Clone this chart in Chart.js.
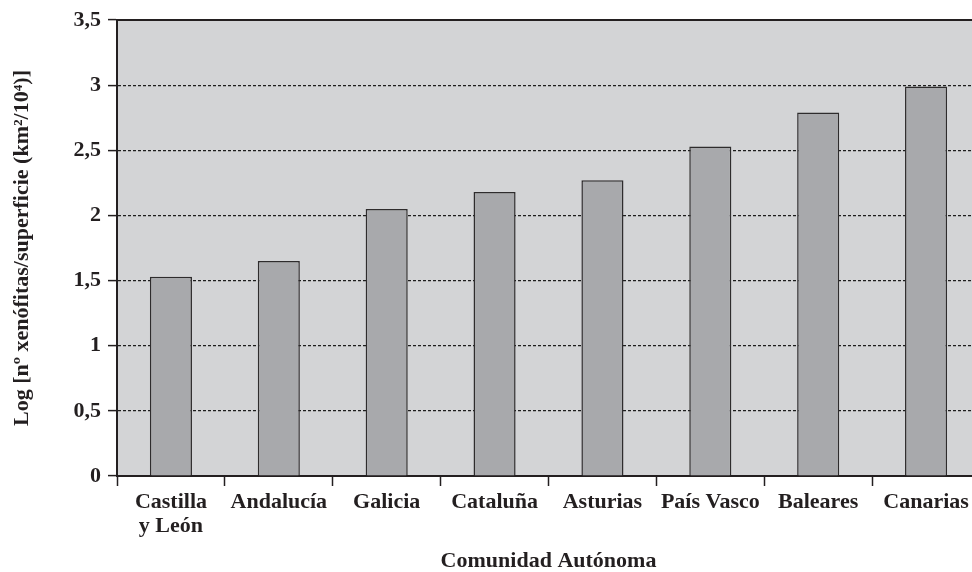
<!DOCTYPE html>
<html>
<head>
<meta charset="utf-8">
<script src="https://cdn.jsdelivr.net/npm/chart.js@4/dist/chart.umd.min.js"></script>
<style>
  html, body { margin: 0; padding: 0; background: #ffffff; overflow: hidden; }
  #wrap { width: 990px; height: 572px; }
</style>
</head>
<body>
<div id="wrap"><canvas id="c" width="990" height="572"></canvas></div>
<script>
// Comunidades autónomas (multi-line labels where needed)
const categories = [
  ['Castilla', 'y León'], 'Andalucía', 'Galicia', 'Cataluña',
  'Asturias', 'País Vasco', 'Baleares', 'Canarias'
];
// Log [nº xenófitas / superficie (km²/10⁴)]
const values = [1.53, 1.65, 2.05, 2.18, 2.27, 2.53, 2.79, 2.99];
const yTickLabels = ['0', '0,5', '1', '1,5', '2', '2,5', '3', '3,5'];

const ink = '#231f20';
const serif = '"Liberation Serif", "Times New Roman", serif';
const labelFont = { family: serif, size: 22, weight: 'bold', lineHeight: 1.1 };

// Plot background and solid top frame line
const frame = {
  id: 'frame',
  beforeDraw(chart) {
    const { ctx, chartArea: a } = chart;
    ctx.save();
    ctx.fillStyle = '#d3d4d6';
    ctx.fillRect(a.left, a.top, a.right - a.left, a.bottom - a.top);
    ctx.restore();
  },
  afterDraw(chart) {
    const { ctx, chartArea: a } = chart;
    ctx.save();
    ctx.strokeStyle = ink;
    ctx.lineWidth = 2;
    ctx.beginPath();
    ctx.moveTo(a.left - 1, a.top);
    ctx.lineTo(a.right, a.top);
    ctx.stroke();
    ctx.restore();
  }
};

new Chart(document.getElementById('c'), {
  type: 'bar',
  data: {
    labels: categories,
    datasets: [{
      data: values,
      backgroundColor: '#a8a9ac',
      borderColor: '#2e2c2d',
      borderWidth: 1.5,
      barPercentage: 0.39,
      categoryPercentage: 1.0
    }]
  },
  options: {
    responsive: false,
    animation: false,
    devicePixelRatio: 1,
    layout: { padding: { top: 20, right: 10, bottom: 0, left: 0 } },
    plugins: {
      legend: { display: false },
      tooltip: { enabled: false }
    },
    scales: {
      x: {
        offset: true,
        grid: {
          offset: true,
          drawOnChartArea: false,
          drawTicks: true,
          tickLength: 10,
          tickColor: ink,
          tickWidth: 1.5
        },
        border: { display: true, color: ink, width: 2 },
        ticks: {
          color: ink,
          padding: 4,
          maxRotation: 0,
          autoSkip: false,
          font: labelFont
        },
        title: {
          display: true,
          text: 'Comunidad Autónoma',
          color: ink,
          padding: { top: 0, bottom: -3 },
          font: { family: serif, size: 22, weight: 'bold', lineHeight: 1.2 }
        },
        afterFit(scale) { scale.height = 96; }
      },
      y: {
        min: 0,
        max: 3.5,
        ticks: {
          stepSize: 0.5,
          color: ink,
          padding: 7,
          font: labelFont,
          callback: (v, i) => yTickLabels[i]
        },
        grid: {
          color: c => (c.tick && (c.tick.value === 0 || c.tick.value === 3.5)) ? 'rgba(0,0,0,0)' : '#1e1e1e',
          lineWidth: 1.2,
          drawTicks: true,
          tickLength: 9,
          tickColor: ink,
          tickWidth: 1.5
        },
        border: { display: true, color: ink, width: 2, dash: [3, 2] },
        title: {
          display: true,
          text: 'Log [nº xenófitas/superficie (km²/10⁴)]',
          color: ink,
          padding: { top: 9, bottom: 0 },
          font: { family: serif, size: 22, weight: 'bold', lineHeight: 1.2 }
        },
        afterFit(scale) { scale.width = 117; }
      }
    }
  },
  plugins: [frame]
});
</script>
</body>
</html>
